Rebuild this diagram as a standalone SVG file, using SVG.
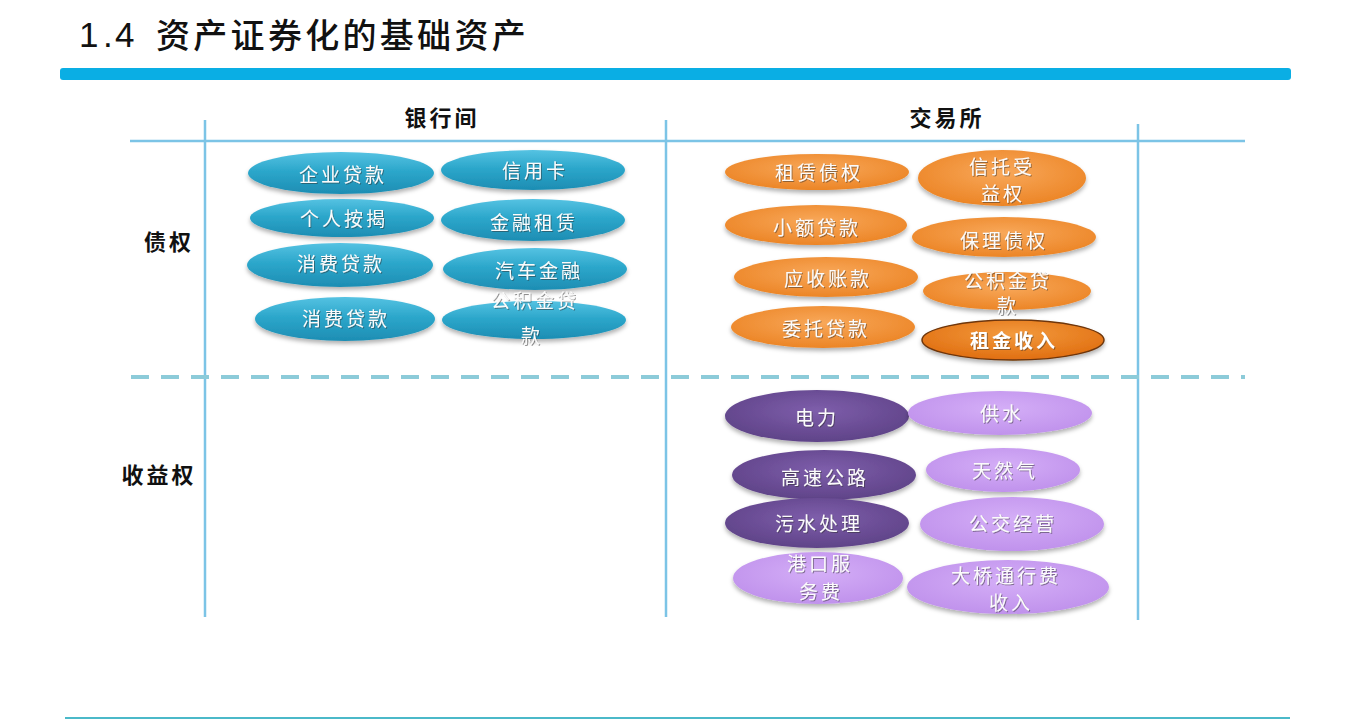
<svg xmlns="http://www.w3.org/2000/svg" width="1352" height="720" viewBox="0 0 1352 720">
<defs>
<style>
.title{font-family:"Noto Sans CJK SC",sans-serif;font-size:34px;font-weight:500;fill:#111}
.num{font-family:"Liberation Sans",sans-serif;font-size:35px;fill:#111}
.hdr{font-family:"Noto Sans CJK SC",sans-serif;font-size:22px;font-weight:bold;fill:#111;letter-spacing:3px;text-anchor:middle}
.t{font-family:"Noto Sans CJK SC",sans-serif;font-size:19px;fill:#fbfbfb;letter-spacing:3px;text-anchor:middle;filter:url(#ts)}
.tb{font-family:"Noto Sans CJK SC",sans-serif;font-size:19px;font-weight:bold;fill:#ffffff;letter-spacing:3px;text-anchor:middle;filter:url(#ts)}
.grid{stroke:#7cc4e6;stroke-width:2.5;fill:none}
.dash{stroke:#8ccbd9;stroke-width:4;stroke-dasharray:18 12;fill:none}
.blue{fill:url(#gBlue);filter:url(#sh)}
.org{fill:url(#gOrg);filter:url(#sh)}
.rent{fill:url(#gRent);stroke:#6e3609;stroke-width:1.5;filter:url(#sh)}
.dp{fill:url(#gDp);filter:url(#sh)}
.lp{fill:url(#gLp);filter:url(#sh)}
</style>
<linearGradient id="gBlue" x1="0" y1="0" x2="0" y2="1">
<stop offset="0" stop-color="#55c2e2"/>
<stop offset="0.45" stop-color="#2ca7cb"/>
<stop offset="1" stop-color="#1d8db3"/>
</linearGradient>
<radialGradient id="gOrg" cx="0.5" cy="0.4" r="0.6">
<stop offset="0" stop-color="#f8a85a"/>
<stop offset="1" stop-color="#ec8526"/>
</radialGradient>
<radialGradient id="gRent" cx="0.5" cy="0.35" r="0.65">
<stop offset="0" stop-color="#f39a3e"/>
<stop offset="1" stop-color="#e06e10"/>
</radialGradient>
<radialGradient id="gDp" cx="0.5" cy="0.4" r="0.6">
<stop offset="0" stop-color="#7e5eab"/>
<stop offset="1" stop-color="#5f4388"/>
</radialGradient>
<radialGradient id="gLp" cx="0.5" cy="0.4" r="0.6">
<stop offset="0" stop-color="#d4aef7"/>
<stop offset="1" stop-color="#c092ec"/>
</radialGradient>
<filter id="sh" x="-10%" y="-20%" width="120%" height="150%">
<feDropShadow dx="0" dy="3" stdDeviation="2" flood-color="#000" flood-opacity="0.3"/>
</filter>
<filter id="ts" x="-10%" y="-30%" width="120%" height="160%">
<feDropShadow dx="1" dy="1" stdDeviation="0.7" flood-color="#333" flood-opacity="0.5"/>
</filter>
</defs>
<rect width="1352" height="720" fill="#ffffff"/>
<g id="title">
<text class="num" x="79 103 115" y="47">1.4</text>
<text class="title" x="156 193.3 230.6 267.9 305.2 342.5 379.8 417.1 454.4 491.7" y="48">资产证券化的基础资产</text>
<rect x="60" y="68" width="1231" height="12" rx="3" fill="#0aaee4"/>
<line x1="65" y1="718" x2="1290" y2="718" stroke="#4bb9c9" stroke-width="2"/>
</g>
<g id="connectors">
<line class="grid" x1="130" y1="141" x2="1245" y2="141"/>
<line class="grid" x1="205" y1="120" x2="205" y2="617"/>
<line class="grid" x1="666" y1="120" x2="666" y2="617"/>
<line class="grid" x1="1138" y1="124" x2="1138" y2="620"/>
<line class="dash" x1="131" y1="377" x2="1245" y2="377"/>
</g>
<g id="headers">
<text class="hdr" x="442" y="126">银行间</text>
<text class="hdr" x="947" y="126">交易所</text>
<text class="hdr" x="169" y="250">债权</text>
<text class="hdr" x="159" y="483">收益权</text>
</g>
<g id="b1"><ellipse class="blue" cx="341" cy="173" rx="93" ry="21"/><text class="t" x="343" y="182">企业贷款</text></g>
<g id="b2"><ellipse class="blue" cx="533" cy="170" rx="92" ry="20"/><text class="t" x="535" y="178">信用卡</text></g>
<g id="b3"><ellipse class="blue" cx="342" cy="218" rx="92" ry="19"/><text class="t" x="344" y="226">个人按揭</text></g>
<g id="b4"><ellipse class="blue" cx="533" cy="220" rx="92" ry="21"/><text class="t" x="534" y="230">金融租赁</text></g>
<g id="b5"><ellipse class="blue" cx="340" cy="265" rx="93" ry="22"/><text class="t" x="341" y="271">消费贷款</text></g>
<g id="b6"><ellipse class="blue" cx="535" cy="269" rx="92" ry="21"/><text class="t" x="539" y="278">汽车金融</text></g>
<g id="b7"><ellipse class="blue" cx="345" cy="319" rx="90" ry="22"/><text class="t" x="346" y="326">消费贷款</text></g>
<g id="b8"><ellipse class="blue" cx="534" cy="320" rx="92" ry="19"/><text class="t" x="535" y="308">公积金贷</text><text class="t" x="532" y="343">款</text></g>
<g id="o1"><ellipse class="org" cx="817" cy="172" rx="92" ry="18"/><text class="t" x="819" y="180">租赁债权</text></g>
<g id="o2"><ellipse class="org" cx="1002" cy="178" rx="84" ry="28"/><text class="t" x="1002" y="174">信托受</text><text class="t" x="1003" y="201">益权</text></g>
<g id="o3"><ellipse class="org" cx="816" cy="225" rx="91" ry="20"/><text class="t" x="817" y="235">小额贷款</text></g>
<g id="o4"><ellipse class="org" cx="1004" cy="237" rx="92" ry="20"/><text class="t" x="1004" y="248">保理债权</text></g>
<g id="o5"><ellipse class="org" cx="826" cy="277" rx="92" ry="20"/><text class="t" x="828" y="286">应收账款</text></g>
<g id="o6"><ellipse class="org" cx="1007" cy="291" rx="84" ry="19"/><text class="t" x="1008" y="288">公积金贷</text><text class="t" x="1008" y="313">款</text></g>
<g id="o7"><ellipse class="org" cx="823" cy="327" rx="92" ry="21"/><text class="t" x="826" y="336">委托贷款</text></g>
<g id="o8"><ellipse class="rent" cx="1013" cy="340" rx="91" ry="20"/><text class="tb" x="1014" y="348">租金收入</text></g>
<g id="p1"><ellipse class="dp" cx="817" cy="416" rx="92" ry="26"/><text class="t" x="817" y="425">电力</text></g>
<g id="p2"><ellipse class="lp" cx="1000" cy="413" rx="92" ry="22"/><text class="t" x="1002" y="421">供水</text></g>
<g id="p3"><ellipse class="dp" cx="824" cy="475" rx="92" ry="25"/><text class="t" x="825" y="485">高速公路</text></g>
<g id="p4"><ellipse class="lp" cx="1003" cy="470" rx="77" ry="22"/><text class="t" x="1005" y="478">天然气</text></g>
<g id="p5"><ellipse class="dp" cx="817" cy="523" rx="92" ry="25"/><text class="t" x="819" y="531">污水处理</text></g>
<g id="p6"><ellipse class="lp" cx="1012" cy="524" rx="92" ry="27"/><text class="t" x="1013" y="531">公交经营</text></g>
<g id="p7"><ellipse class="lp" cx="818" cy="578" rx="85" ry="26"/><text class="t" x="820" y="571">港口服</text><text class="t" x="821" y="599">务费</text></g>
<g id="p8"><ellipse class="lp" cx="1008" cy="587" rx="101" ry="27"/><text class="t" x="1006" y="583">大桥通行费</text><text class="t" x="1011" y="610">收入</text></g>
</svg>
